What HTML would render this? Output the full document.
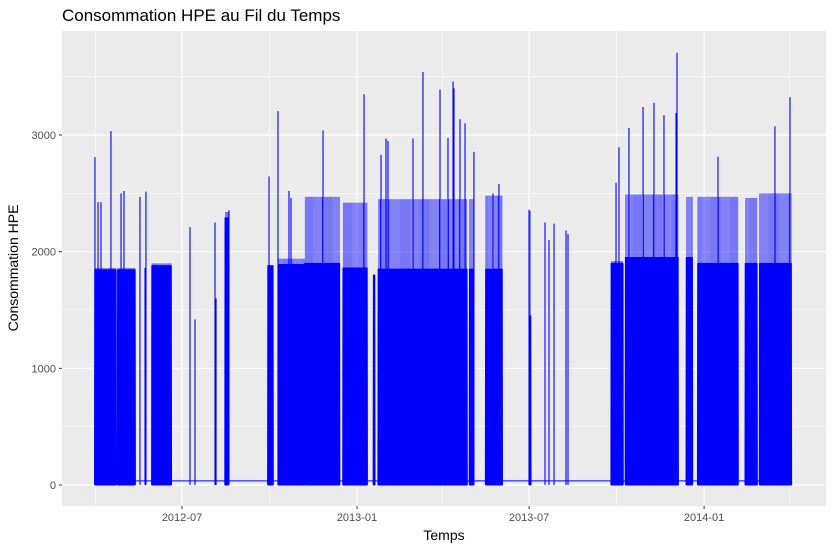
<!DOCTYPE html>
<html><head><meta charset="utf-8"><style>
body{margin:0;background:#fff;font-family:"Liberation Sans",sans-serif}
</style></head><body>
<svg id="chart" width="834" height="551" xmlns="http://www.w3.org/2000/svg" font-family="Liberation Sans, sans-serif">
<text x="62" y="21" font-size="17" fill="#000">Consommation HPE au Fil du Temps</text>
<rect x="62" y="31" width="764" height="475" fill="#EBEBEB"/>
<g id="grid"></g>
<g id="series"></g>
<g id="axes"></g>
<text x="444" y="540" font-size="14" text-anchor="middle">Temps</text>
<text transform="translate(18,268) rotate(-90)" font-size="14" text-anchor="middle">Consommation HPE</text>
</svg>
<script>
// day offsets relative to 2012-07-01
const yTicks=[0,1000,2000,3000];
const yMinor=[500,1500,2500,3500];
const xTickDays=[0,184,365,549];
const xTickLabels=["2012-07","2013-01","2013-07","2014-01"];
const xMinorDays=[-91,92,274,457,639];
const seriesStart=-92, seriesEnd=641, idleLevel=35;
// active blocks: start day, end day, base peak, top peak
const blockStart=[-92,-68,-32,45,90,101,129,169,201,206,302,319,365,451,466,530,542,592,607];
const blockEnd=[-69,-49,-11,49,96,129,166,195,203,300,307,337,367,464,522,537,585,605,641];
const blockBase=[1845,1845,1880,2290,1880,1890,1900,1860,1800,1850,1850,1850,1450,1900,1950,1950,1900,1900,1900];
const blockTop=[1860,1860,1900,2340,1880,1940,2470,2420,1800,2450,2450,2480,2350,1920,2490,2470,2470,2460,2500];
// isolated spikes
const spikeDay=[-91.5,-88.3,-85.2,-74.7,-64.1,-61,-44.2,-38.9,-37.9,8.4,13.7,34.7,35.8,49.4,91.5,100.9,112.5,114.6,148.3,191.4,209.3,214.5,216.6,242.9,253.4,271.3,279.7,285,286,292.3,297.6,307,327,333.3,364.9,381.7,385.9,391.2,403.8,405.9,456.4,459.5,470,484.8,496.3,506.8,519.5,520.5,563.6,623.5,639.3];
const spikeVal=[2810,2425,2425,3033,2500,2520,2470,1860,2515,2210,1420,2250,1600,2355,2645,3205,2520,2460,3040,3350,2830,2970,2950,2970,3540,3390,2975,3460,3400,3135,3100,2855,2500,2580,2360,2250,2100,2240,2180,2150,2590,2895,3060,3240,3275,3170,3190,3705,2815,3075,3325];

const NS="http://www.w3.org/2000/svg";
const X=d=>182+0.951*d;
const Y=v=>485-v*0.11667;
function mk(tag,attrs,parent){const e=document.createElementNS(NS,tag);for(const k in attrs)e.setAttribute(k,attrs[k]);parent.appendChild(e);return e;}
const grid=document.getElementById('grid'),axes=document.getElementById('axes'),ser=document.getElementById('series');
yMinor.forEach(v=>{const l=mk('line',{x1:62,x2:826,y1:Y(v),y2:Y(v),stroke:'#fff','stroke-width':0.6},grid);

});
xMinorDays.forEach(d=>{const l=mk('line',{x1:X(d),x2:X(d),y1:31,y2:506,stroke:'#fff','stroke-width':0.6},grid);

});
yTicks.forEach(v=>{const l=mk('line',{x1:62,x2:826,y1:Y(v),y2:Y(v),stroke:'#fff','stroke-width':1.2},grid);


const t=mk('line',{x1:59,x2:62,y1:Y(v),y2:Y(v),stroke:'#333','stroke-width':1},axes);


const tx=mk('text',{x:56,y:Y(v)+4,'font-size':11,'text-anchor':'end',fill:'#4D4D4D'},axes);tx.textContent=v;

});
xTickDays.forEach((d,i)=>{const l=mk('line',{x1:X(d),x2:X(d),y1:31,y2:506,stroke:'#fff','stroke-width':1.2},grid);


const t=mk('line',{x1:X(d),x2:X(d),y1:506,y2:509,stroke:'#333','stroke-width':1},axes);


const tx=mk('text',{x:X(d),y:521,'font-size':11,'text-anchor':'middle',fill:'#4D4D4D'},axes);tx.textContent=xTickLabels[i];

});
// idle baseline + base blocks
let p='M'+X(seriesStart)+','+Y(idleLevel)+' L'+X(seriesEnd)+','+Y(idleLevel);
let tops='';
for(let b=0;b<blockStart.length;b++){
  let s='M'+X(blockStart[b]).toFixed(2)+','+Y(0);
  for(let d=blockStart[b];d<blockEnd[b];d++){
    s+=' L'+X(d+0.25).toFixed(2)+','+Y(blockBase[b]).toFixed(2)+' L'+X(d+0.5).toFixed(2)+','+Y(0)+
       ' L'+X(d+0.75).toFixed(2)+','+Y(blockBase[b]).toFixed(2)+' L'+X(d+1).toFixed(2)+','+Y(0);
    tops+=' M'+X(d+0.5).toFixed(2)+','+Y(blockBase[b]).toFixed(2)+' L'+X(d+0.5).toFixed(2)+','+Y(blockTop[b]).toFixed(2);
  }
  p+=' '+s;
}
const path=mk('path',{d:p,fill:'none',stroke:'#0000FF','stroke-width':1,'stroke-linejoin':'round'},ser);


const tp=mk('path',{d:tops,fill:'none',stroke:'#0000FF','stroke-width':0.45},ser);


let sp='';
for(let i=0;i<spikeDay.length;i++){
  sp+=' M'+X(spikeDay[i]).toFixed(2)+','+Y(0)+' L'+X(spikeDay[i]).toFixed(2)+','+Y(spikeVal[i]).toFixed(2);
}
const spk=mk('path',{d:sp,fill:'none',stroke:'#0000FF','stroke-width':1.1},ser);


</script>
</body></html>
